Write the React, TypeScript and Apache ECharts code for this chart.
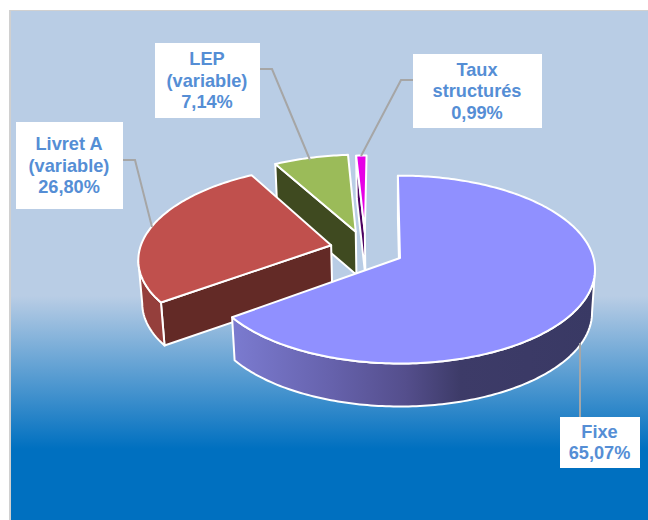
import React, { useEffect, useRef } from "react";
import * as echarts from "echarts";

// Loan book split by rate type, clockwise from twelve o'clock
const categories = ["Fixe", "Livret A\n(variable)", "LEP\n(variable)", "Taux\nstructurés"];
const shares = [65.07, 26.8, 7.14, 0.99];

const topColors = ["#9090FF", "#C0504D", "#9BBB59", "#E600E6"];
const rimColors = ["#3A3A66", "#953F3C", "#3F4A20", "#4B0060"];
const cutColors = ["#3A3A66", "#632A26", "#3F4A20", "#4B0060"];

// Exploded offset of each slice, in units of the disc radius on the tilted plane
const explode = [
  [0, 0],
  [-0.362, 0.14],
  [-0.237, 0.295],
  [-0.188, 0.283],
];

// Callout box and leader line per slice
const callouts = [
  { box: [560, 417, 80, 51], leader: [[580, 417], [580, 343]] },
  { box: [16, 122, 107, 87], leader: [[123, 160], [135, 160], [152, 227]] },
  { box: [155, 43, 105, 75], leader: [[260, 69], [272, 69], [310, 160]] },
  { box: [413, 54, 129, 74], leader: [[413, 80], [401, 80], [361, 156]] },
];

const WIDTH = 648;
const HEIGHT = 520;
const START_ANGLE = -0.7;
const CX = 400;
const CY = 258;
const RX = 193.5;
const RY = 92.5;
const TILT = 0.123;
const DEPTH = 43;
const DEPTH_SHRINK = 0.985;

type Pt = [number, number];

// Perspective projection of a point on the pie's plane
function project(u: number, v: number): Pt {
  const w = 1 + TILT * v;
  return [CX + (RX * u) / w, CY - (RY * v) / w];
}

function drop(p: Pt): Pt {
  return [CX + (p[0] - CX) * DEPTH_SHRINK, p[1] + DEPTH];
}

function sliceGeometry(index: number) {
  const total = shares.reduce((a, b) => a + b, 0);
  const before = shares.slice(0, index).reduce((a, b) => a + b, 0);
  const from = START_ANGLE + (before / total) * 360;
  const to = from + (shares[index] / total) * 360;
  const [ou, ov] = explode[index];
  const apex = project(ou, ov);
  const arc: Pt[] = [];
  const steps = Math.max(2, Math.ceil(to - from));
  for (let i = 0; i <= steps; i++) {
    const t = ((from + ((to - from) * i) / steps) * Math.PI) / 180;
    arc.push(project(ou + Math.sin(t), ov + Math.cos(t)));
  }
  return { apex, arc };
}

function renderSlice(_params: unknown, api: any) {
  const index = api.value(0) as number;
  const { apex, arc } = sliceGeometry(index);
  const edge = { stroke: "#FFFFFF", lineWidth: 2, lineJoin: "round" };
  const children: any[] = [];

  // Side walls: only edges running right to left on screen face the viewer
  const wall = (pts: Pt[], fill: unknown) =>
    children.push({
      type: "polygon",
      shape: { points: [...pts, ...pts.slice().reverse().map(drop)] },
      style: { ...edge, fill },
    });

  const rim: Pt[] = [];
  for (let i = 0; i < arc.length - 1; i++) {
    if (arc[i + 1][0] < arc[i][0]) {
      if (!rim.length) rim.push(arc[i]);
      rim.push(arc[i + 1]);
    }
  }
  if (arc[0][0] < apex[0]) wall([apex, arc[0]], cutColors[index]);
  if (rim.length > 1) {
    const fill =
      index === 0
        ? new echarts.graphic.LinearGradient(1, 0, 0, 0, [
            { offset: 0, color: "#393964" },
            { offset: 0.37, color: "#3D3B68" },
            { offset: 0.52, color: "#544E8C" },
            { offset: 0.74, color: "#6763AE" },
            { offset: 1, color: "#7B7BD0" },
          ])
        : rimColors[index];
    wall(rim, fill);
  }

  children.push({
    type: "polygon",
    shape: { points: [apex, ...arc] },
    style: { ...edge, fill: topColors[index] },
  });
  return { type: "group", children };
}

function calloutGraphics() {
  const out: any[] = [];
  categories.forEach((name, i) => {
    const { box, leader } = callouts[i];
    const [x, y, w, h] = box;
    const text = `${name}\n${shares[i].toFixed(2).replace(".", ",")}%`;
    out.push({
      type: "polyline",
      z: 10,
      shape: { points: leader },
      style: { stroke: "#A6A6A6", lineWidth: 2, fill: "none" },
    });
    out.push({
      type: "rect",
      z: 11,
      shape: { x, y, width: w, height: h },
      style: { fill: "#FFFFFF" },
    });
    out.push({
      type: "text",
      z: 12,
      x: x + w / 2 - 0.5,
      y: y + h / 2,
      style: {
        text,
        fill: "#558ED5",
        font: 'bold 18.2px "Liberation Sans", Arial, sans-serif',
        lineHeight: 21.5,
        align: "center",
        verticalAlign: "middle",
      },
    });
  });
  return out;
}

export default function App() {
  const ref = useRef<HTMLDivElement>(null);

  useEffect(() => {
    const chart = echarts.init(ref.current!, undefined, { renderer: "svg" });
    chart.setOption({
      animation: false,
      backgroundColor: "#FFFFFF",
      graphic: [
        {
          type: "rect",
          z: -2,
          shape: { x: 9, y: 10, width: WIDTH - 9, height: HEIGHT - 10 },
          style: { fill: "#D0D0D0" },
        },
        {
          type: "rect",
          z: -1,
          shape: { x: 11, y: 11, width: WIDTH - 11, height: HEIGHT - 11 },
          style: {
            fill: new echarts.graphic.LinearGradient(0, 0, 0, 1, [
              { offset: 0, color: "#B9CDE5" },
              { offset: 0.56, color: "#B9CDE5" },
              { offset: 0.86, color: "#0070C0" },
              { offset: 1, color: "#0070C0" },
            ]),
          },
        },
        ...calloutGraphics(),
      ],
      series: [
        {
          type: "custom",
          coordinateSystem: "none",
          silent: true,
          z: 5,
          renderItem: renderSlice,
          // Far slices first so the nearer ones overlap them
          data: shares.map((_, i) => [shares.length - 1 - i]),
        },
      ],
    });
    return () => chart.dispose();
  }, []);

  return (
    <div
      ref={ref}
      style={{ position: "fixed", left: 0, top: 0, width: WIDTH, height: HEIGHT }}
    />
  );
}
